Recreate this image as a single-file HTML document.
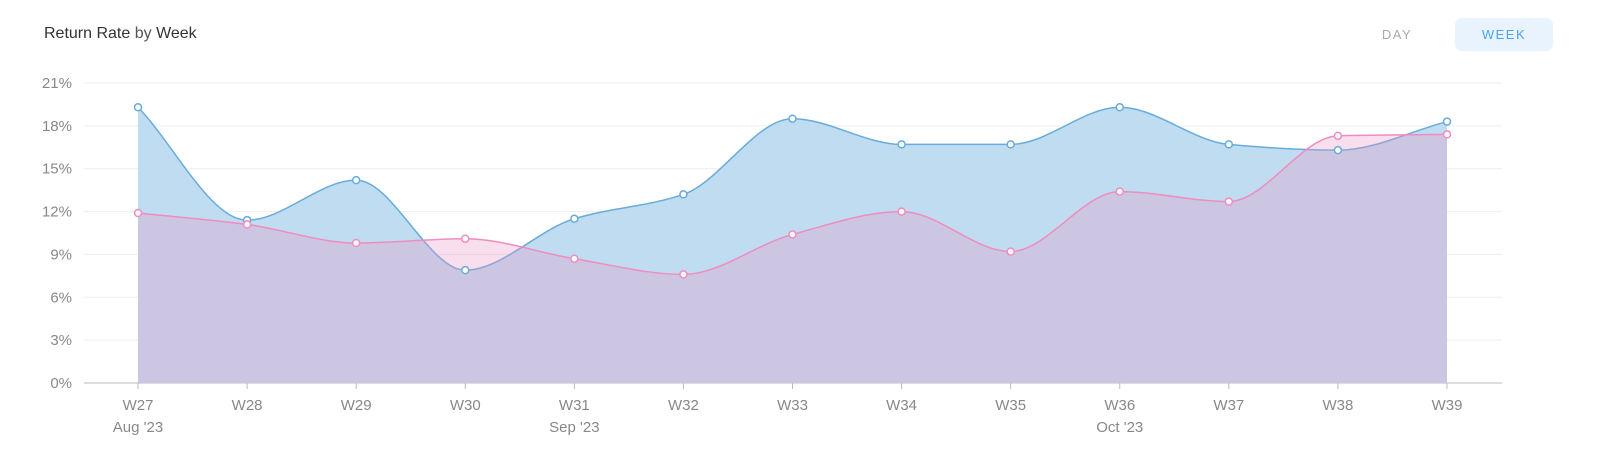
<!DOCTYPE html>
<html><head><meta charset="utf-8"><style>
body{margin:0;width:1600px;height:467px;background:#fff;font-family:"Liberation Sans",sans-serif;overflow:hidden;position:relative}
.title{position:absolute;left:44px;top:25px;font-size:16px;color:#555}
.title b{font-weight:normal;color:#333}
.btn{position:absolute;top:18px;height:33px;line-height:33px;text-align:center;font-size:13px;letter-spacing:1.5px;border-radius:7px}
</style></head><body>
<div class="title"><b>Return Rate</b> by <b>Week</b></div>
<div class="btn" style="left:1365px;width:64px;color:#aaa">DAY</div>
<div class="btn" style="left:1455px;width:98px;background:#e8f3fd;color:#4da3ea">WEEK</div>
<svg id="c" width="1600" height="467" style="position:absolute;left:0;top:0"></svg>
<script>
const categories=["W27","W28","W29","W30","W31","W32","W33","W34","W35","W36","W37","W38","W39"];
const subLabels=["Aug '23","","","","Sep '23","","","","","Oct '23","","",""];
const seriesBlue=[19.3,11.4,14.2,7.9,11.5,13.2,18.5,16.7,16.7,19.3,16.7,16.3,18.3];
const seriesPink=[11.9,11.1,9.8,10.1,8.7,7.6,10.4,12.0,9.2,13.4,12.7,17.3,17.4];
const yTicks=[0,3,6,9,12,15,18,21];
const NS="http://www.w3.org/2000/svg",svg=document.getElementById('c');
const x0=138,x1=1447,yb=383,yt=83;
const X=i=>x0+(x1-x0)*i/(categories.length-1);
const Y=v=>yb-(yb-yt)*v/21;
function mk(t,a,p){const e=document.createElementNS(NS,t);for(const k in a)e.setAttribute(k,a[k]);(p||svg).appendChild(e);return e;}
yTicks.forEach(t=>{
  const l=mk('line',{x1:84,x2:1502,y1:Y(t),y2:Y(t),stroke:t?'#eee':'#bbb','stroke-width':1});
  
  
  const tx=mk('text',{x:72,y:Y(t)+5,'text-anchor':'end','font-size':15,fill:'#888'});
  tx.textContent=t+'%';
  
  
});
categories.forEach((c,i)=>{
  mk('line',{x1:X(i),x2:X(i),y1:yb,y2:yb+6,stroke:'#bbb'});
  const t=mk('text',{x:X(i),y:410,'text-anchor':'middle','font-size':15,fill:'#888'});
  t.textContent=c;
  
  
  if(subLabels[i]){const s=mk('text',{x:X(i),y:432,'text-anchor':'middle','font-size':15,fill:'#888'});s.textContent=subLabels[i];
  
  }
});
function monotone(vals){
  const n=vals.length,xs=vals.map((v,i)=>X(i)),ys=vals.map(Y);
  const d=[],m=[];
  for(let i=0;i<n-1;i++)d.push((ys[i+1]-ys[i])/(xs[i+1]-xs[i]));
  for(let i=0;i<n;i++){
    if(i===0)m.push(d[0]);else if(i===n-1)m.push(d[n-2]);
    else m.push(d[i-1]*d[i]>0?2/(1/d[i-1]+1/d[i]):0);
  }
  let p='M'+xs[0]+','+ys[0];
  for(let i=0;i<n-1;i++){const h=(xs[i+1]-xs[i])/3;
    p+=` C${xs[i]+h},${ys[i]+m[i]*h} ${xs[i+1]-h},${ys[i+1]-m[i+1]*h} ${xs[i+1]},${ys[i+1]}`;}
  return p;
}
function series(vals,fill,stroke,name){
  const p=monotone(vals);
  const a=mk('path',{d:p+` L${X(vals.length-1)},${yb} L${X(0)},${yb} Z`,fill:fill});
  
  
  const l=mk('path',{d:p,fill:'none',stroke:stroke,'stroke-width':1.5});
  
  
}
series(seriesBlue,'#bfdcf0','#68acdc','blue-series');
series(seriesPink,'rgba(235,150,200,0.3)','#f08cbe','pink-series');
[[seriesBlue,'#68acdc','blue'],[seriesPink,'#f08cbe','pink']].forEach(([vals,col,n])=>{
  vals.forEach((v,i)=>{const c=mk('circle',{cx:X(i),cy:Y(v),r:3.5,fill:'#fff',stroke:col,'stroke-width':1.5});
  
  });
});
</script>
</body></html>
